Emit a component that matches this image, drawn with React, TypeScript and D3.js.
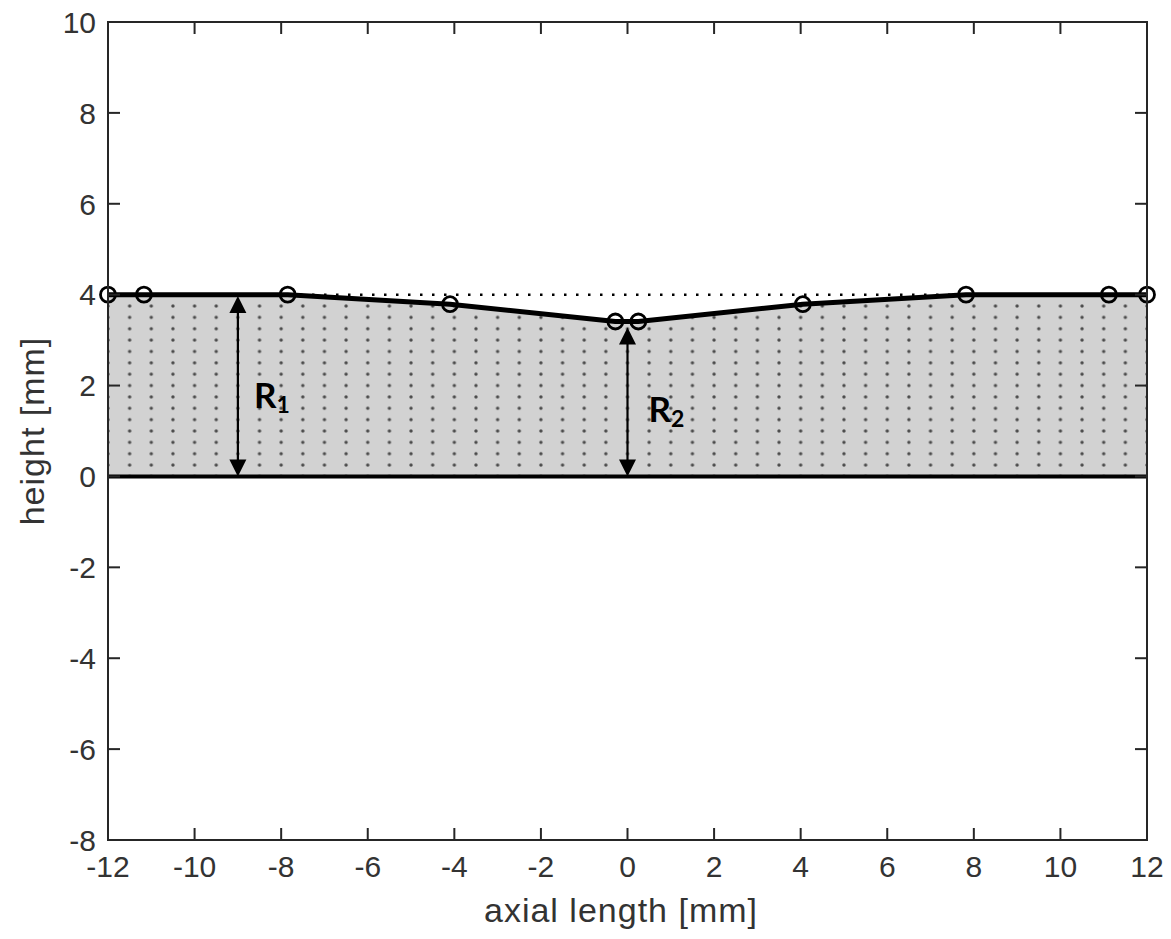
import React from "react";
import * as d3 from "d3";

// Profile (circle markers)
const profileX = [-12, -11.17, -7.85, -4.1, -0.28, 0.25, 4.05, 7.82, 11.12, 12];
const profileY = [4.0, 4.0, 4.0, 3.79, 3.41, 3.41, 3.79, 4.0, 4.0, 4.0];

const xTicks = [-12, -10, -8, -6, -4, -2, 0, 2, 4, 6, 8, 10, 12];
const yTicks = [-8, -6, -4, -2, 0, 2, 4, 6, 8, 10];

const refLevel = 4; // dotted reference line
// Arrows: [x, yFrom, yTo]
const arrowR1 = { x: -9, y0: 0, y1: 3.97 };
const arrowR2 = { x: 0, y0: 0, y1: 3.28 };

const W = 1171;
const H = 939;
const left = 108, right = 1147, top = 22, bottom = 840;

export default function App() {
  const x = d3.scaleLinear().domain([-12, 12]).range([left, right]);
  const y = d3.scaleLinear().domain([-8, 10]).range([bottom, top]);

  const pts = profileX.map((v, i) => [v, profileY[i]] as [number, number]);
  const area = d3
    .area<[number, number]>()
    .x((d) => x(d[0]))
    .y0(y(0))
    .y1((d) => y(d[1]))(pts) as string;
  const line = d3
    .line<[number, number]>()
    .x((d) => x(d[0]))
    .y((d) => y(d[1]))(pts) as string;

  const tileW = x(0.5) - x(0);
  const tileH = y(0) - y(0.25);

  const tickLen = 12;
  const tickFont = "'Liberation Sans', Arial, sans-serif";

  const arrow = (a: { x: number; y0: number; y1: number }, key: string) => {
    const ax = x(a.x);
    const yb = y(a.y0);
    const yt = y(a.y1);
    const hl = 17, hw = 8.5;
    return (
      <g key={key}>
        <line x1={ax} x2={ax} y1={yt + hl - 2} y2={yb - hl + 2} stroke="#000" strokeWidth={2.2} />
        <path d={`M${ax},${yt} L${ax - hw},${yt + hl} L${ax + hw},${yt + hl} Z`} fill="#000" />
        <path d={`M${ax},${yb} L${ax - hw},${yb - hl} L${ax + hw},${yb - hl} Z`} fill="#000" />
      </g>
    );
  };

  const dotR = 1.7;
  const dotC = "#4a4a4a";

  return (
    <svg
      width={W}
      height={H}
      style={{ position: "absolute", left: 0, top: 0, background: "#fff" }}
    >
      <defs>
        <pattern
          id="dots"
          patternUnits="userSpaceOnUse"
          x={x(-12)}
          y={y(0)}
          width={tileW}
          height={tileH}
        >
          <rect width={tileW} height={tileH} fill="#d2d2d2" />
          <circle cx={0} cy={0} r={dotR} fill={dotC} />
          <circle cx={tileW} cy={0} r={dotR} fill={dotC} />
          <circle cx={0} cy={tileH} r={dotR} fill={dotC} />
          <circle cx={tileW} cy={tileH} r={dotR} fill={dotC} />
        </pattern>
      </defs>

      {/* filled region */}
      <path d={area} fill="url(#dots)" stroke="none" />

      {/* dotted reference line */}
      <line
        x1={x(-12)}
        x2={x(12)}
        y1={y(refLevel)}
        y2={y(refLevel)}
        stroke="#000"
        strokeWidth={2.5}
        strokeDasharray="2.5 9.5"
      />

      {/* base line */}
      <line x1={x(-12)} x2={x(12)} y1={y(0)} y2={y(0)} stroke="#000" strokeWidth={4} />

      {/* profile line */}
      <path d={line} fill="none" stroke="#000" strokeWidth={5} strokeLinejoin="round" />

      {/* markers */}
      {pts.map((d, i) => (
        <circle key={i} cx={x(d[0])} cy={y(d[1])} r={7.5} fill="none" stroke="#000" strokeWidth={2.8} />
      ))}

      {/* arrows */}
      {arrow(arrowR1, "r1")}
      {arrow(arrowR2, "r2")}

      {/* R labels */}
      <text x={x(-9) + 16} y={408} fontFamily="Lato, 'Open Sans', sans-serif" fontWeight={700} fontSize={35} fill="#000">
        R<tspan fontSize={23} dy={5}>1</tspan>
      </text>
      <text x={x(0) + 21} y={422} fontFamily="Lato, 'Open Sans', sans-serif" fontWeight={700} fontSize={35} fill="#000">
        R<tspan fontSize={23} dy={5}>2</tspan>
      </text>

      {/* axes box */}
      <rect x={left} y={top} width={right - left} height={bottom - top} fill="none" stroke="#262626" strokeWidth={2} />

      {/* ticks */}
      {xTicks.map((t) => (
        <g key={"xt" + t}>
          <line x1={x(t)} x2={x(t)} y1={bottom} y2={bottom - tickLen} stroke="#262626" strokeWidth={2} />
          <line x1={x(t)} x2={x(t)} y1={top} y2={top + tickLen} stroke="#262626" strokeWidth={2} />
          <text x={x(t)} y={bottom + 37} textAnchor="middle" fontFamily={tickFont} fontSize={30} fill="#333">
            {t}
          </text>
        </g>
      ))}
      {yTicks.map((t) => (
        <g key={"yt" + t}>
          <line x1={left} x2={left + tickLen} y1={y(t)} y2={y(t)} stroke="#262626" strokeWidth={2} />
          <line x1={right} x2={right - tickLen} y1={y(t)} y2={y(t)} stroke="#262626" strokeWidth={2} />
          <text x={96} y={y(t)} dy="0.36em" textAnchor="end" fontFamily={tickFont} fontSize={30} fill="#333">
            {t}
          </text>
        </g>
      ))}

      {/* axis labels */}
      <text x={621} y={922} textAnchor="middle" fontFamily={tickFont} fontSize={34} letterSpacing={1} fill="#333">
        axial length [mm]
      </text>
      <text
        transform={`translate(44,${(top + bottom) / 2}) rotate(-90)`}
        textAnchor="middle"
        fontFamily={tickFont}
        fontSize={34}
        letterSpacing={1}
        fill="#333"
      >
        height [mm]
      </text>
    </svg>
  );
}
